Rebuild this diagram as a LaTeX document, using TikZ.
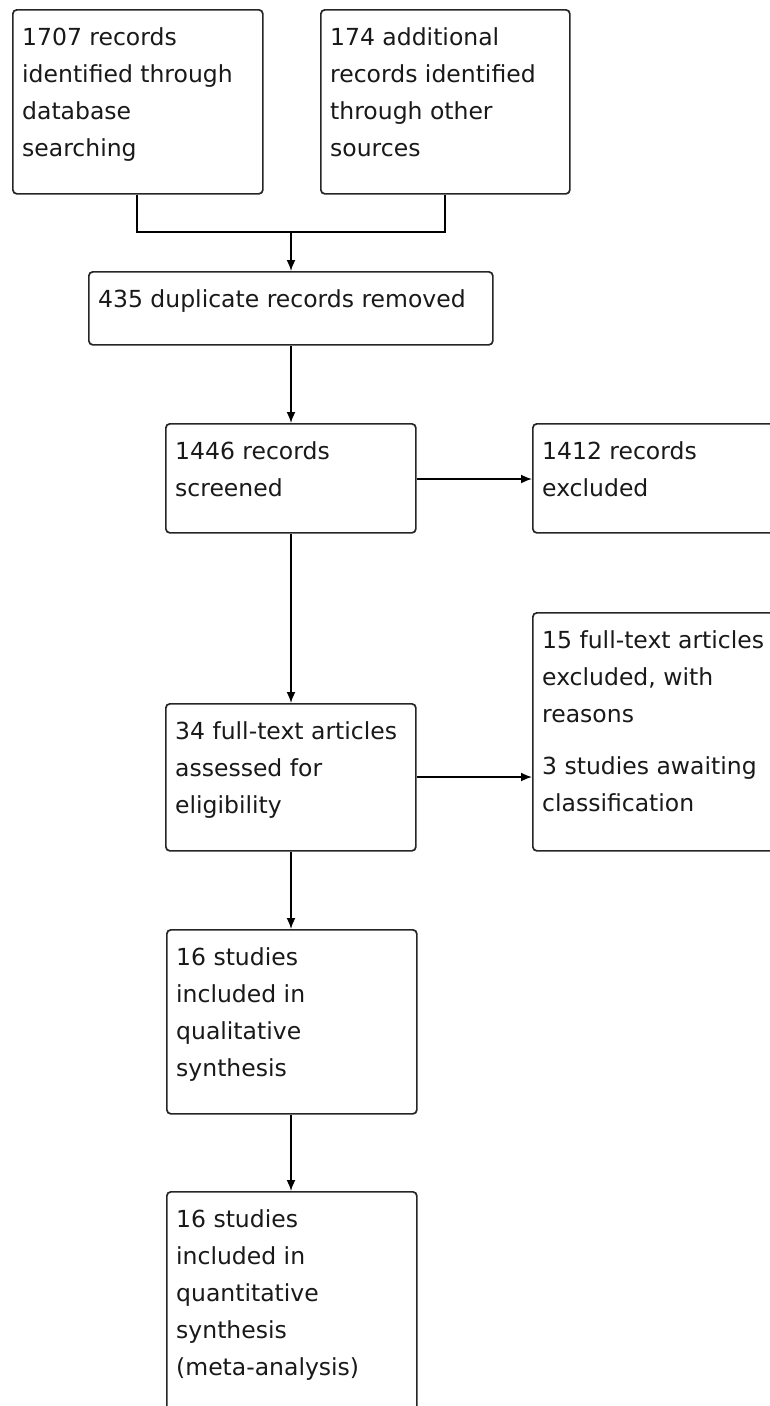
\documentclass[tikz,border=0pt]{standalone}
\usepackage{fontspec}
\setmainfont{DejaVu Sans}
\usetikzlibrary{arrows.meta}
\tikzset{
  box/.style={draw=black!85, line width=1.7pt, rounded corners=4pt, fill=white, anchor=north west, inner sep=0pt},
  txt/.style={anchor=north west, inner sep=0pt, align=left, text=black!90,
    font=\fontsize{23.5}{37}\selectfont},
  conn/.style={draw=black, line width=1.7pt},
  arr/.style={conn, -{Latex[length=11pt,width=9pt]}},
}
\begin{document}
\begin{tikzpicture}[x=1pt,y=-1pt]
\useasboundingbox (0,0) rectangle (770,1406);
\clip (0,0) rectangle (770,1406);
\fill[white] (0,0) rectangle (770,1406);
% boxes
\node[box, minimum width=250pt, minimum height=184pt] (b1) at (12,9) {};
\node[box, minimum width=249pt, minimum height=184pt] (b2) at (320,9) {};
\node[box, minimum width=404pt, minimum height=73pt] (b3) at (88,271) {};
\node[box, minimum width=250pt, minimum height=109pt] (b4) at (165,423) {};
\node[box, minimum width=260pt, minimum height=109pt] (b5) at (532,423) {};
\node[box, minimum width=260pt, minimum height=238pt] (b6) at (532,612) {};
\node[box, minimum width=250pt, minimum height=147pt] (b7) at (165,703) {};
\node[box, minimum width=250pt, minimum height=184pt] (b8) at (166,929) {};
\node[box, minimum width=250pt, minimum height=240pt] (b9) at (166,1191) {};
% texts
\node[txt] (t1) at ([shift={(10,10)}]b1.north west) {\strut 1707 records\\identified through\\database\\searching};
\node[txt] (t2) at ([shift={(10,10)}]b2.north west) {\strut 174 additional\\records identified\\through other\\sources};
\node[txt] (t3) at ([shift={(10,10)}]b3.north west) {\strut 435 duplicate records removed};
\node[txt] (t4) at ([shift={(10,10)}]b4.north west) {\strut 1446 records\\screened};
\node[txt] (t5) at ([shift={(10,10)}]b5.north west) {\strut 1412 records\\excluded};
\node[txt] (t6) at ([shift={(10,10)}]b6.north west) {\strut 15 full-text articles\\excluded, with\\reasons\\[15pt]3 studies awaiting\\classification};
\node[txt] (t7) at ([shift={(10,10)}]b7.north west) {\strut 34 full-text articles\\assessed for\\eligibility};
\node[txt] (t8) at ([shift={(10,10)}]b8.north west) {\strut 16 studies\\included in\\qualitative\\synthesis};
\node[txt] (t9) at ([shift={(10,10)}]b9.north west) {\strut 16 studies\\included in\\quantitative\\synthesis\\(meta-analysis)};
% connectors
\coordinate (j1) at (137,232);
\coordinate (j2) at (445,232);
\coordinate (jm) at (291,232);
\draw[conn] (b1.south -| j1) -- (j1) -- (j2) -- (b2.south -| j2);
\draw[arr] (jm) -- (jm |- b3.north);
\draw[arr] (b3.south -| jm) -- (jm |- b4.north);
\draw[arr] (b4.east |- 0,479) -- (b5.west |- 0,479);
\draw[arr] (b4.south -| jm) -- (jm |- b7.north);
\draw[arr] (b7.east |- 0,777) -- (b6.west |- 0,777);
\draw[arr] (b7.south -| jm) -- (jm |- b8.north);
\draw[arr] (b8.south -| jm) -- (jm |- b9.north);
\end{tikzpicture}
\end{document}
